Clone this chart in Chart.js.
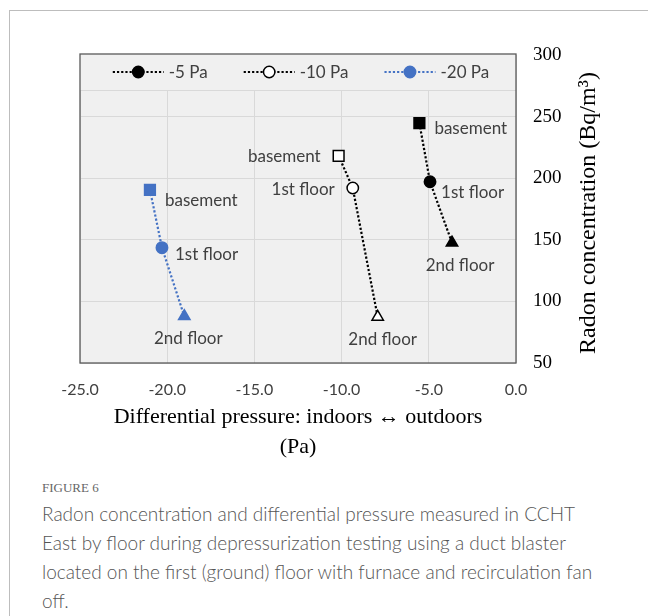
<!DOCTYPE html>
<html>
<head>
<meta charset="utf-8">
<script src="https://cdn.jsdelivr.net/npm/chart.js@4.4.0/dist/chart.umd.min.js"></script>
<style>
  html, body { margin: 0; padding: 0; background: #fff; }
  #frame { position: absolute; left: 9px; top: 10px; width: 639px; height: 606px;
           border-left: 1px solid #bdbdbd; border-top: 1px solid #bdbdbd; }
  #wrap { position: absolute; left: 0; top: 0; width: 648px; height: 470px; }
  #caption { position: absolute; left: 42px; top: 477px; width: 562px;
             font-family: Lato, "Open Sans", sans-serif; font-weight: 300;
             color: #555; font-size: 19px; line-height: 29px; }
  #fig { font-family: "Liberation Serif", serif; font-size: 13px; color: #666; line-height: 22px; }
</style>
</head>
<body>
<div id="frame"></div>
<div id="wrap"><canvas id="chart" width="648" height="470"></canvas></div>
<div id="caption">
  <div id="fig">FIGURE 6</div>
  Radon concentration and differential pressure measured in CCHT East by floor during depressurization testing using a duct blaster located on the first (ground) floor with furnace and recirculation fan off.
</div>
<script>
  // values
  const floorLabels = ["basement", "1st floor", "2nd floor"];
  const seriesNames = ["-5 Pa", "-10 Pa", "-20 Pa"];
  const pressure5 = [-5.54, -4.93, -3.67];
  const radon5 = [244.7, 197.1, 147.6];
  const pressure10 = [-10.17, -9.36, -7.93];
  const radon10 = [218.2, 192.0, 87.4];
  const pressure20 = [-20.99, -20.3, -19.02];
  const radon20 = [190.6, 143.6, 87.9];
  const xTitle = ["Differential pressure: indoors \u2194 outdoors", "(Pa)"];
  const yTitle = "Radon concentration (Bq/m\u00b3)";

  const plotBg = "#f0f0f0";
  const gridColor = "#d9d9d9";
  const textGray = "#404040";
  const labelFont = '17px Lato, "Open Sans", sans-serif';

  function points(xs, ys) {
    return xs.map((x, i) => ({ x: x, y: ys[i] }));
  }

  function series(name, xs, ys, color, fill, labelPos) {
    return {
      label: name,
      data: points(xs, ys),
      showLine: true,
      borderColor: color,
      borderWidth: 2.2,
      borderDash: [2.2, 2],
      pointStyle: ["rect", "circle", "triangle"],
      pointRadius: [7.6, 5.7, 6.6],
      pointHoverRadius: [7.6, 5.7, 6.6],
      pointBackgroundColor: fill,
      pointBorderColor: color,
      pointBorderWidth: 1.5,
      labelPos: labelPos,
    };
  }

  const datasets = [
    series(seriesNames[0], pressure5, radon5, "#000000", "#000000",
      [["left", 15, 5], ["left", 11, 11], ["center", 8, 23]]),
    series(seriesNames[1], pressure10, radon10, "#000000", "#ffffff",
      [["right", -18, 1], ["right", -18, 1], ["center", 5, 23]]),
    series(seriesNames[2], pressure20, radon20, "#4472c4", "#4472c4",
      [["left", 15, 11], ["left", 13, 7], ["center", 4, 22]]),
  ];

  const framePlugin = {
    id: "frame",
    beforeDraw(chart) {
      const { ctx, chartArea: a } = chart;
      ctx.save();
      ctx.fillStyle = plotBg;
      ctx.fillRect(a.left, a.top, a.right - a.left, a.bottom - a.top);
      ctx.restore();
    },
    afterDraw(chart) {
      const { ctx, chartArea: a } = chart;
      ctx.save();

      // legend box across the top of the plot
      const lTop = a.top - 1;
      const lBot = a.top + 35;
      ctx.fillStyle = plotBg;
      ctx.fillRect(a.left, lTop, a.right - a.left, lBot - lTop);
      ctx.strokeStyle = gridColor;
      ctx.lineWidth = 1;
      ctx.beginPath();
      ctx.moveTo(a.left, lBot + 0.5);
      ctx.lineTo(a.right, lBot + 0.5);
      ctx.stroke();

      ctx.font = labelFont;
      const lineLen = 51;
      const gap = 5;
      const spacing = 36;
      const widths = chart.data.datasets.map((d) => lineLen + gap + ctx.measureText(d.label).width);
      const total = widths.reduce((s, w) => s + w, 0) + spacing * (widths.length - 1);
      let x = (a.left + a.right) / 2 - total / 2 + 3;
      const ly = (lTop + lBot) / 2;
      chart.data.datasets.forEach((d, i) => {
        ctx.strokeStyle = d.borderColor;
        ctx.lineWidth = d.borderWidth;
        ctx.setLineDash(d.borderDash);
        ctx.beginPath();
        ctx.moveTo(x, ly);
        ctx.lineTo(x + lineLen, ly);
        ctx.stroke();
        ctx.setLineDash([]);
        ctx.beginPath();
        ctx.arc(x + lineLen / 2, ly, 5.7, 0, Math.PI * 2);
        ctx.fillStyle = d.pointBackgroundColor;
        ctx.fill();
        ctx.lineWidth = 1.5;
        ctx.stroke();
        ctx.fillStyle = textGray;
        ctx.textAlign = "left";
        ctx.textBaseline = "middle";
        ctx.fillText(d.label, x + lineLen + gap, ly + 1);
        x += widths[i] + spacing;
      });

      // plot border
      ctx.strokeStyle = "#595959";
      ctx.lineWidth = 1.3;
      ctx.strokeRect(a.left, lTop, a.right - a.left, a.bottom - lTop);

      // floor labels next to each point
      ctx.font = labelFont;
      ctx.fillStyle = textGray;
      ctx.textBaseline = "middle";
      chart.data.datasets.forEach((d, di) => {
        chart.getDatasetMeta(di).data.forEach((pt, pi) => {
          const [align, dx, dy] = d.labelPos[pi];
          ctx.textAlign = align;
          ctx.fillText(floorLabels[pi], pt.x + dx, pt.y + dy);
        });
      });

      // y axis title, reading bottom to top on the right
      ctx.translate(589, (a.top + a.bottom) / 2 + 4);
      ctx.rotate(-Math.PI / 2);
      ctx.font = '24px "Liberation Serif", serif';
      ctx.fillStyle = "#000";
      ctx.textAlign = "center";
      ctx.textBaseline = "middle";
      ctx.fillText(yTitle, 0, 0);
      ctx.restore();
    },
  };

  new Chart(document.getElementById("chart"), {
    type: "scatter",
    data: { datasets: datasets },
    options: {
      responsive: false,
      animation: false,
      layout: { padding: { left: 80, top: 55, right: 0, bottom: 0 } },
      plugins: { legend: { display: false }, tooltip: { enabled: false } },
      scales: {
        x: {
          type: "linear",
          min: -25,
          max: 0,
          afterFit(scale) { scale.height = 107; },
          ticks: {
            stepSize: 5,
            padding: 17,
            color: textGray,
            font: { family: 'Lato, "Open Sans", sans-serif', size: 16 },
            callback: (v) => v.toFixed(1),
          },
          grid: { color: gridColor, drawTicks: false },
          border: { display: false },
          title: {
            display: true,
            text: xTitle,
            color: "#000",
            font: { family: '"Liberation Serif", serif', size: 22, lineHeight: 1.4 },
            padding: { top: 0, bottom: 7 },
          },
        },
        y: {
          type: "linear",
          position: "right",
          min: 50,
          max: 300,
          afterFit(scale) { scale.width = 132; },
          ticks: {
            stepSize: 50,
            padding: 17,
            color: "#000",
            font: { family: '"Liberation Serif", serif', size: 19 },
          },
          grid: { color: gridColor, drawTicks: false },
          border: { display: false },
        },
      },
    },
    plugins: [framePlugin],
  });
</script>
</body>
</html>
